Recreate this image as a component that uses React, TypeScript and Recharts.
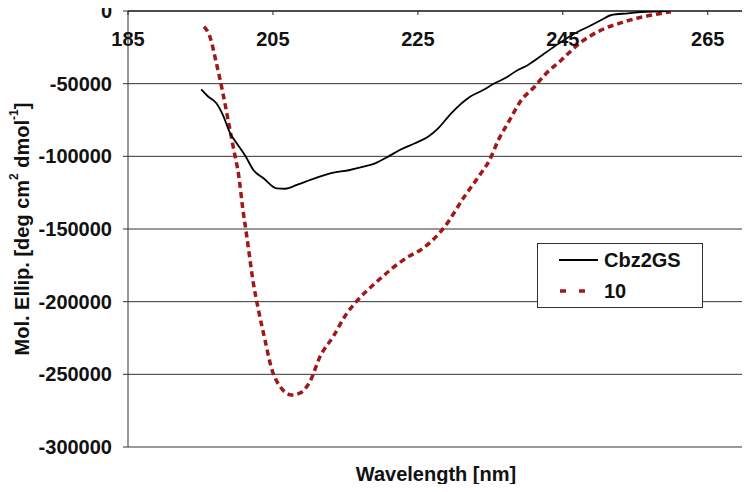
import React from 'react';
import {
  LineChart,
  Line,
  XAxis,
  YAxis,
  CartesianGrid,
  ReferenceLine,
} from 'recharts';

// Cbz2GS trace (nm, deg cm2 dmol-1)
const cbzWavelength = [
  195.1, 196.1, 197.2, 198.1, 199.1, 200.0, 201.2, 202.3, 203.7, 205.5, 206.7,
  208.3, 210.1, 212.9, 215.6, 217.5, 219.1, 220.9, 222.5, 224.6, 226.4, 227.8,
  229.6, 232.2, 234.0, 235.4, 237.0, 238.8, 240.2, 242.5, 244.8, 246.7, 248.5,
  250.3, 251.7, 254.0, 255.8, 259.5,
];
const cbzValues = [
  -53900, -59000, -63500, -71600, -84200, -91000, -99800, -109400, -115100,
  -122000, -122300, -119700, -116300, -111700, -109400, -107100, -104800,
  -100200, -95600, -91000, -86500, -80700, -70400, -59000, -54400, -50200,
  -46300, -40600, -37100, -29100, -21100, -15300, -10800, -6200, -2750, -1600,
  -700, 0,
];

// compound 10 trace
const tenWavelength = [
  195.5, 196.3, 197.2, 198.1, 198.9, 199.6, 200.3, 200.8, 201.4, 202.3, 203.0,
  203.9, 204.8, 206.0, 207.6, 208.7, 210.1, 211.5, 213.3, 215.2, 216.5, 219.1,
  223.7, 225.5, 228.7, 231.4, 233.7, 234.9, 236.1, 237.4, 239.3, 241.1, 242.5,
  244.8, 247.6, 250.3, 253.1, 255.8, 258.1, 259.9,
];
const tenValues = [
  -10800, -17700, -36000, -56600, -77300, -95600, -114000, -134600, -155300,
  -187300, -205700, -226300, -245800, -258500, -264200, -263000, -255000,
  -237800, -224100, -208000, -200000, -187300, -169000, -164000, -148400,
  -127800, -111700, -102500, -88800, -77300, -61200, -52100, -44000, -33700,
  -21100, -13100, -8000, -4300, -2100, -500,
];

const xTicks = [185, 205, 225, 245, 265];
const yTicks = [0, -50000, -100000, -150000, -200000, -250000, -300000];

const seriesNames = ['Cbz2GS', '10'];

const cbzData = cbzWavelength.map((w, i) => ({ w, v: cbzValues[i] }));
const tenData = tenWavelength.map((w, i) => ({ w, v: tenValues[i] }));

const FONT = '"Liberation Sans", Arial, sans-serif';
const RED = '#A01818';
const PLOT_TOP = 11;

const renderTopTick = (props: any) => {
  const { x, payload } = props;
  return (
    <g key={`t-${payload.value}`}>
      <line x1={x} x2={x} y1={PLOT_TOP} y2={PLOT_TOP + 4} stroke="#222" strokeWidth={1} />
      <text
        x={x}
        y={PLOT_TOP + 35}
        textAnchor="middle"
        fontFamily={FONT}
        fontWeight="bold"
        fontSize={20}
        fill="#111"
      >
        {payload.value}
      </text>
    </g>
  );
};

const YTitle = (props: any) => {
  const vb = props.viewBox;
  const cx = vb.x + 22;
  const cy = vb.y + vb.height / 2;
  return (
    <text
      x={cx}
      y={cy}
      transform={`rotate(-90, ${cx}, ${cy})`}
      textAnchor="middle"
      dominantBaseline="central"
      fontFamily={FONT}
      fontWeight="bold"
      fontSize={20}
      fill="#111"
    >
      Mol. Ellip. [deg cm
      <tspan fontSize={12} dy={-8}>2</tspan>
      <tspan dy={8}> dmol</tspan>
      <tspan fontSize={12} dy={-8}>-1</tspan>
      <tspan dy={8}>]</tspan>
    </text>
  );
};

const XTitle = (props: any) => {
  const vb = props.viewBox;
  return (
    <text
      x={vb.x + vb.width / 2}
      y={vb.y + 34}
      textAnchor="middle"
      fontFamily={FONT}
      fontWeight="bold"
      fontSize={20}
      fill="#111"
    >
      Wavelength [nm]
    </text>
  );
};

const ChartLegend = () => (
  <div
    style={{
      position: 'absolute',
      left: 537,
      top: 243,
      width: 164,
      height: 63,
      background: '#fff',
      border: '1.5px solid #333',
    }}
  >
    <svg width={164} height={63} style={{ position: 'absolute', left: 0, top: 0 }}>
      <line x1={21} x2={60} y1={16} y2={16} stroke="#000" strokeWidth={1.8} />
      <line x1={22} x2={60} y1={47} y2={47} stroke={RED} strokeWidth={3.5} strokeDasharray="6 13" />
      <text x={66} y={23} fontFamily={FONT} fontWeight="bold" fontSize={20} fill="#111">
        {seriesNames[0]}
      </text>
      <text x={66} y={54} fontFamily={FONT} fontWeight="bold" fontSize={20} fill="#111">
        {seriesNames[1]}
      </text>
    </svg>
  </div>
);

export default function App() {
  return (
    <div style={{ position: 'relative', width: 750, height: 492, margin: -8 }}>
      <LineChart
        width={750}
        height={492}
        margin={{ top: PLOT_TOP - 1, right: 6, left: 0, bottom: 0 }}
        style={{ overflow: 'visible' }}
      >
        <CartesianGrid
          horizontal
          vertical={false}
          stroke="#333"
          strokeWidth={1}
          yAxisId="left"
          xAxisId="top"
        />
        <XAxis
          xAxisId="top"
          orientation="top"
          type="number"
          dataKey="w"
          domain={[185, 270]}
          ticks={xTicks}
          interval={0}
          height={1}
          tickLine={false}
          axisLine={{ stroke: '#000', strokeWidth: 1 }}
          tick={renderTopTick}
          allowDataOverflow
        />
        <XAxis
          xAxisId="bottom"
          orientation="bottom"
          type="number"
          domain={[185, 270]}
          height={45}
          tick={false}
          tickLine={false}
          axisLine={{ stroke: '#9a9a9a', strokeWidth: 1.5 }}
          label={<XTitle />}
          allowDataOverflow
        />
        <YAxis
          yAxisId="left"
          type="number"
          domain={[-300000, 0]}
          ticks={yTicks}
          interval={0}
          width={128}
          tickSize={5}
          tickMargin={11}
          tickLine={{ stroke: '#333' }}
          axisLine={{ stroke: '#333', strokeWidth: 1 }}
          tick={{ fontFamily: FONT, fontWeight: 'bold', fontSize: 20, fill: '#111' }}
          tickFormatter={(v: number) => String(v)}
          label={<YTitle />}
          allowDataOverflow
        />
        <ReferenceLine
          x={270}
          xAxisId="top"
          yAxisId="left"
          stroke="#9a9a9a"
          strokeWidth={1.5}
        />
        <Line
          xAxisId="top"
          yAxisId="left"
          data={tenData}
          dataKey="v"
          name={seriesNames[1]}
          type="monotone"
          stroke={RED}
          strokeWidth={3.5}
          strokeDasharray="6 4"
          dot={false}
          isAnimationActive={false}
        />
        <Line
          xAxisId="top"
          yAxisId="left"
          data={cbzData}
          dataKey="v"
          name={seriesNames[0]}
          type="monotone"
          stroke="#000"
          strokeWidth={1.8}
          dot={false}
          isAnimationActive={false}
        />
      </LineChart>
      <ChartLegend />
    </div>
  );
}
